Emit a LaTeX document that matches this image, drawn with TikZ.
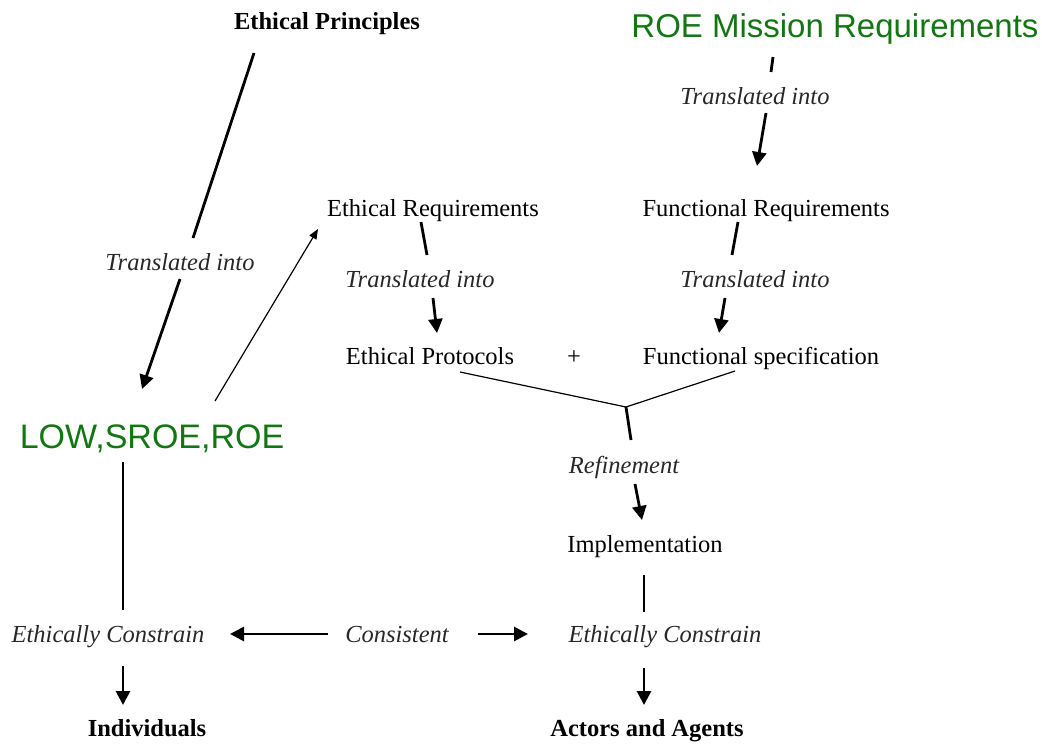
\documentclass[tikz,border=0pt]{standalone}
\usepackage{fontspec}
\setmainfont{Liberation Serif}
\newfontfamily\greensans{Liberation Sans}
\usetikzlibrary{arrows.meta}
\definecolor{roegreen}{RGB}{18,118,18}
\definecolor{labelgray}{RGB}{40,40,40}

\tikzset{
  term/.style={anchor=base, inner sep=0pt, font=\fontsize{24.5}{29}\selectfont},
  headterm/.style={term, font=\fontsize{24.5}{29}\selectfont\bfseries},
  verb/.style={term, text=labelgray, font=\fontsize{24.5}{29}\selectfont\itshape},
  greenterm/.style={anchor=base, inner sep=0pt, text=roegreen},
  heavy/.style={line width=2.8pt},
  heavyarrow/.style={line width=2.8pt, -{Triangle[length=14pt,width=14pt]}},
  light/.style={line width=1.2pt},
  lightarrow/.style={line width=1.2pt, -{Triangle[length=10pt,width=8pt]}}
}

\begin{document}
\begin{tikzpicture}[x=1pt,y=-1pt]
\useasboundingbox (0,0) rectangle (1042,745);

% --- terms ---
\node[headterm] (pr) at (327,29) {Ethical Principles};
\node[greenterm, font=\greensans\fontsize{33}{38}\selectfont] (roe) at (835,37) {ROE Mission Requirements};
\node[verb] (t2) at (755,104) {Translated into};
\node[term] (er) at (433,216) {Ethical Requirements};
\node[term] (fr) at (766,216) {Functional Requirements};
\node[verb] (t1) at (180,270) {Translated into};
\node[verb] (t3) at (420,287) {Translated into};
\node[verb] (t4) at (755,287) {Translated into};
\node[term] (ep) at (430,364) {Ethical Protocols};
\node[term] (plus) at (574,364) {+};
\node[term] (fs) at (761,364) {Functional specification};
\node[greenterm, font=\greensans\fontsize{34}{40}\selectfont] (low) at (152,448) {LOW,SROE,ROE};
\node[verb] (ref) at (624,473) {Refinement};
\node[term] (impl) at (645,552) {Implementation};
\node[verb] (ecl) at (108,642) {Ethically Constrain};
\node[verb] (cons) at (397,642) {Consistent};
\node[verb] (ecr) at (665,642) {Ethically Constrain};
\node[headterm] (ind) at (147,736) {Individuals};
\node[headterm] (act) at (647,736) {Actors and Agents};
\coordinate (j) at (626,407);

% --- principles into rules of engagement ---
\draw[heavy] ([shift={(-73,24)}]pr.base) -- ([shift={(13,-32)}]t1.base);
\draw[heavyarrow] ([shift={(0,9)}]t1.base) -- ([shift={(-10,-59)}]low.base);
\draw[lightarrow] ([shift={(63,-47)}]low.base) -- ([shift={(-115,13)}]er.base);

% --- mission requirements ---
\draw[heavy] ([shift={(-62,20)}]roe.base) -- ([shift={(16,-32)}]t2.base);
\draw[heavyarrow] ([shift={(11,9)}]t2.base) -- ([shift={(-9,-50)}]fr.base);

% --- requirements into protocols / specification ---
\draw[heavy] ([shift={(-12,6)}]er.base) -- ([shift={(7,-32)}]t3.base);
\draw[heavyarrow] ([shift={(13,11)}]t3.base) -- ([shift={(7,-31)}]ep.base);
\draw[heavy] ([shift={(-28,6)}]fr.base) -- ([shift={(-23,-32)}]t4.base);
\draw[heavyarrow] ([shift={(-30,11)}]t4.base) -- ([shift={(-42,-31)}]fs.base);

% --- merge and refinement ---
\draw[light] ([shift={(30,8)}]ep.base) -- (j);
\draw[light] ([shift={(-26,7)}]fs.base) -- (j);
\draw[heavy] (j) -- ([shift={(7,-33)}]ref.base);
\draw[heavyarrow] ([shift={(11,11)}]ref.base) -- ([shift={(-3,-32)}]impl.base);

% --- constraints ---
\draw[heavy] ([shift={(-1,23)}]impl.base) -- ([shift={(-21,-30)}]ecr.base);
\draw[heavyarrow] ([shift={(-21,26)}]ecr.base) -- ([shift={(-3,-31)}]act.base);
\draw[heavy] ([shift={(-29,14)}]low.base) -- ([shift={(15,-32)}]ecl.base);
\draw[heavyarrow] ([shift={(15,24)}]ecl.base) -- ([shift={(-24,-31)}]ind.base);
\draw[heavyarrow] ([shift={(-69,-8)}]cons.base) -- ([shift={(122,-8)}]ecl.base);
\draw[heavyarrow] ([shift={(81,-8)}]cons.base) -- ([shift={(-137,-8)}]ecr.base);
\end{tikzpicture}
\end{document}
